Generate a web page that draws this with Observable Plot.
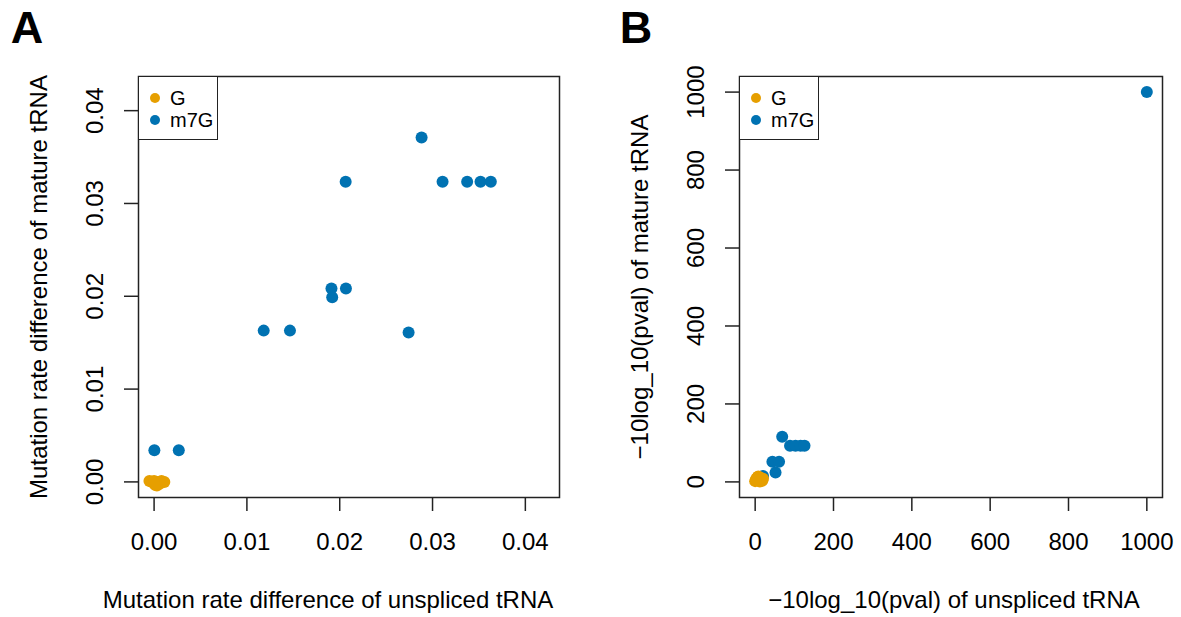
<!DOCTYPE html>
<html>
<head>
<meta charset="utf-8">
<script src="https://cdn.jsdelivr.net/npm/d3@7"></script>
<script src="https://cdn.jsdelivr.net/npm/@observablehq/plot@0.6"></script>
<style>
  html, body { margin: 0; padding: 0; background: #fff; }
  #wrap { position: relative; width: 1181px; height: 617px; overflow: hidden; font-family: "Liberation Sans", Arial, Helvetica, sans-serif; }
  #wrap svg { position: absolute; top: 0; }
  .legend { position: absolute; box-sizing: border-box; border: 1.5px solid #222; background: #fff; font-size: 20px; color: #000; }
  .legend .item { position: absolute; left: 0; height: 20px; line-height: 20px; white-space: nowrap; }
  .legend .dot { position: absolute; width: 10px; height: 10px; border-radius: 50%; }
  .legend .lab { position: absolute; }
</style>
</head>
<body>
<div id="wrap"></div>
<script>
// ---------- data ----------
const groups = ["G", "m7G"];
const groupColors = ["#E69F00", "#0072B2"];

// Panel A: mutation rate difference (unspliced vs mature)
const aM7G_x = [0.02882, 0.02064, 0.03108, 0.03373, 0.03517, 0.03628, 0.01911, 0.02067, 0.01919, 0.01181, 0.01464, 0.02742, 0.00003, 0.00266];
const aM7G_y = [0.0371, 0.03233, 0.03233, 0.03233, 0.03233, 0.03233, 0.02083, 0.02083, 0.01989, 0.0163, 0.0163, 0.01609, 0.0034, 0.0034];
const aG_x = [-0.0005, -0.0002, 0.0000, 0.0002, 0.0004, 0.0006, 0.0008, 0.0011, 0.0003, 0.0001];
const aG_y = [0.0001, 0.0000, 0.0001, -0.0003, 0.0000, -0.0002, 0.0001, 0.0000, -0.0004, -0.0003];

// Panel B: -10log_10(pval) (unspliced vs mature)
const bM7G_x = [1000, 20, 52, 44, 61, 69, 89, 103, 116, 126];
const bM7G_y = [1000, 15, 24, 52, 52, 116, 93, 93, 93, 93];
const bG_x = [0, 3, 6, 10, 14, 18, 20, 8, 12, 2];
const bG_y = [2, 8, 12, 5, 10, 3, 8, 14, 1, 5];

const aTicks = [0, 0.01, 0.02, 0.03, 0.04];
const aTickLabels = ["0.00", "0.01", "0.02", "0.03", "0.04"];
const bTicks = [0, 200, 400, 600, 800, 1000];
const bTickLabels = ["0", "200", "400", "600", "800", "1000"];

const aDomain = [-0.00168, 0.04368];
const bDomain = [-40, 1040];

const aXLabel = "Mutation rate difference of unspliced tRNA";
const aYLabel = "Mutation rate difference of mature tRNA";
const bXLabel = "\u221210log_10(pval) of unspliced tRNA";
const bYLabel = "\u221210log_10(pval) of mature tRNA";

// ---------- build ----------
const FONT = "Liberation Sans, Arial, Helvetica, sans-serif";
const rows = (xs, ys, g) => xs.map((x, i) => ({x, y: ys[i], g}));

function panel({letter, xs1, ys1, xs2, ys2, domain, ticks, tickLabels, xLabel, yLabel, xLabelDx, width, ml, mr}) {
  const m7g = rows(xs1, ys1, "m7G");
  const gg = rows(xs2, ys2, "G");
  const tk = ticks.map((v, i) => ({v, t: tickLabels[i]}));
  return Plot.plot({
    width, height: 617,
    marginLeft: ml, marginRight: mr, marginTop: 76, marginBottom: 120,
    style: {fontFamily: FONT, fontSize: "24px", color: "#000", background: "transparent", overflow: "visible"},
    x: {domain, axis: null},
    y: {domain, axis: null},
    color: {domain: groups, range: groupColors},
    marks: [
      Plot.axisX({ticks, tickSize: 14, tickFormat: () => "", stroke: "#222", strokeWidth: 1.5, label: null}),
      Plot.axisY({ticks, tickSize: 14, tickFormat: () => "", stroke: "#222", strokeWidth: 1.5, label: null}),
      Plot.text(tk, {x: "v", text: "t", frameAnchor: "bottom", dy: 45, lineAnchor: "middle", textAnchor: "middle", fontSize: 24, fill: "#000"}),
      Plot.text(tk, {y: "v", text: "t", frameAnchor: "left", dx: -43, rotate: -90, lineAnchor: "middle", textAnchor: "middle", fontSize: 24, fill: "#000"}),
      Plot.dot(m7g, {x: "x", y: "y", fill: "g", r: 6, stroke: null}),
      Plot.dot(gg, {x: "x", y: "y", fill: "g", r: 6, stroke: null}),
      Plot.frame({stroke: "#222", strokeWidth: 1.5}),
      Plot.text([xLabel], {text: d => d, frameAnchor: "bottom", dx: xLabelDx, dy: 103, lineAnchor: "middle", textAnchor: "middle", fontSize: 24, fill: "#000"}),
      Plot.text([yLabel], {text: d => d, frameAnchor: "left", dx: -99, rotate: -90, lineAnchor: "middle", textAnchor: "middle", fontSize: 24, fill: "#000"}),
      Plot.text([letter.t], {text: d => d, frameAnchor: "top-left", dx: letter.dx, dy: -48, lineAnchor: "middle", textAnchor: "middle", fontSize: 45, fontWeight: "bold", fill: "#000"})
    ]
  });
}

const wrap = document.getElementById("wrap");

const pa = panel({letter: {t: "A", dx: -111.5}, xs1: aM7G_x, ys1: aM7G_y, xs2: aG_x, ys2: aG_y,
  domain: aDomain, ticks: aTicks, tickLabels: aTickLabels, xLabel: aXLabel, yLabel: aYLabel, xLabelDx: -21,
  width: 590, ml: 138, mr: 31});
pa.style.left = "0px";
wrap.appendChild(pa);

const pb = panel({letter: {t: "B", dx: -103.5}, xs1: bM7G_x, ys1: bM7G_y, xs2: bG_x, ys2: bG_y,
  domain: bDomain, ticks: bTicks, tickLabels: bTickLabels, xLabel: bXLabel, yLabel: bYLabel, xLabelDx: 3,
  width: 591, ml: 149, mr: 19});
pb.style.left = "590px";
wrap.appendChild(pb);

function legend(left) {
  const d = document.createElement("div");
  d.className = "legend";
  Object.assign(d.style, {left: left + "px", top: "76px", width: "80px", height: "64px"});
  groups.forEach((g, i) => {
    const it = document.createElement("div");
    it.className = "item";
    it.style.top = (11 + i * 21.5) + "px";
    const dot = document.createElement("span");
    dot.className = "dot";
    Object.assign(dot.style, {left: "11px", top: "5px", background: groupColors[i]});
    const lab = document.createElement("span");
    lab.className = "lab";
    lab.style.left = "31px";
    lab.textContent = g;
    it.appendChild(dot); it.appendChild(lab);
    d.appendChild(it);
  });
  wrap.appendChild(d);
}
legend(138);
legend(739);
</script>
</body>
</html>
